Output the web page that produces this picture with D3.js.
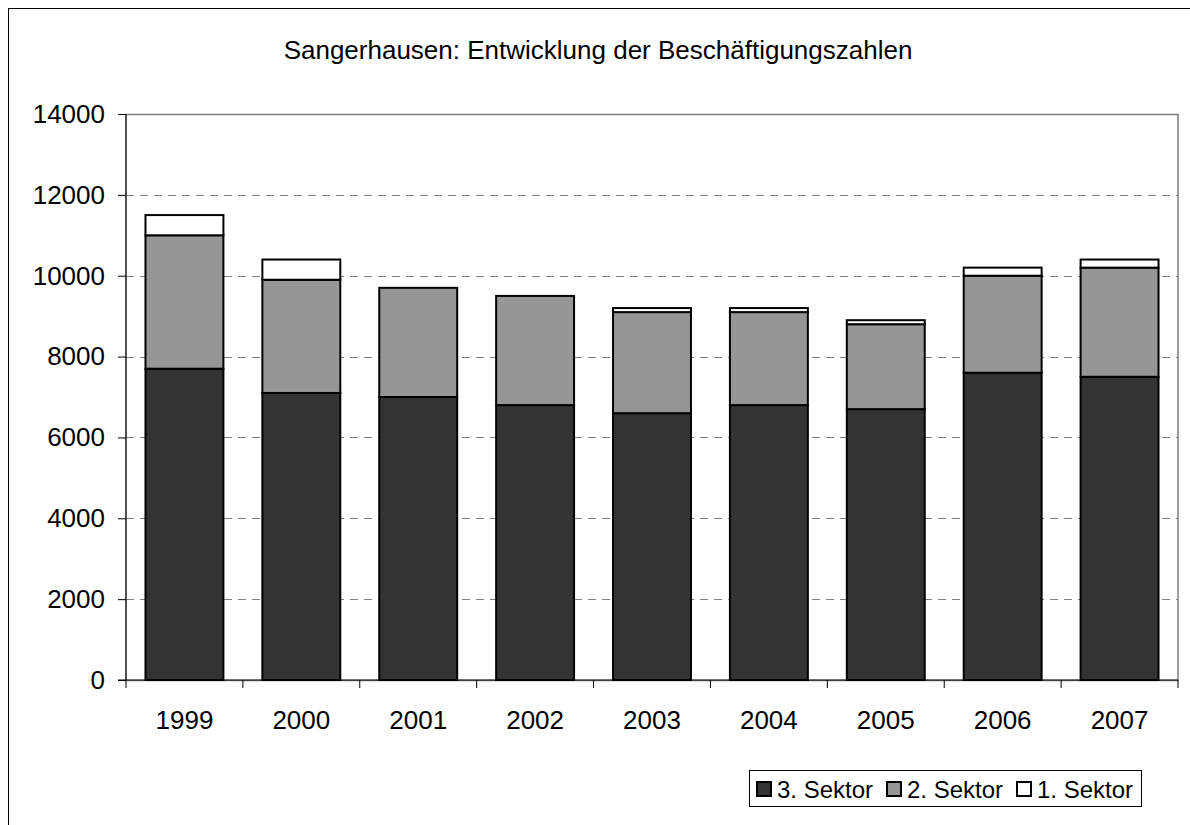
<!DOCTYPE html>
<html>
<head>
<meta charset="utf-8">
<script src="https://cdn.jsdelivr.net/npm/d3@7"></script>
<style>
  body { margin: 0; background: #fff; }
  svg { font-family: "Liberation Sans", Arial, sans-serif; }
</style>
</head>
<body>
<svg id="chart" width="1190" height="825"></svg>
<script>
const years = ['1999', '2000', '2001', '2002', '2003', '2004', '2005', '2006', '2007'];
const sektor3 = [7700, 7100, 7000, 6800, 6600, 6800, 6700, 7600, 7500];
const sektor2 = [3300, 2800, 2700, 2700, 2500, 2300, 2100, 2400, 2700];
const sektor1 = [500, 500, 0, 0, 100, 100, 100, 200, 200];
const yTicks = [0, 2000, 4000, 6000, 8000, 10000, 12000, 14000];
const seriesNames = ['3. Sektor', '2. Sektor', '1. Sektor'];
const seriesColors = ['#333333', '#969696', '#ffffff'];

const FONT = 26;
const svg = d3.select('#chart');
const plot = { left: 126, right: 1178, top: 114, bottom: 680 };

// chart frame
svg.append('rect')
    .attr('x', 8.5).attr('y', 8.5)
    .attr('width', 1200).attr('height', 900)
    .attr('fill', 'none').attr('stroke', '#000').attr('stroke-width', 1);

svg.append('text')
    .attr('x', 598).attr('y', 59)
    .attr('text-anchor', 'middle')
    .attr('font-size', FONT)
    .text('Sangerhausen: Entwicklung der Beschäftigungszahlen');

const x = d3.scaleBand().domain(years).range([plot.left, plot.right]).paddingInner(1 / 3).paddingOuter(1 / 6);
const y = d3.scaleLinear().domain([0, 14000]).range([plot.bottom, plot.top]);

// plot area border
svg.append('rect')
    .attr('x', plot.left).attr('y', plot.top + 0.5)
    .attr('width', plot.right - plot.left).attr('height', plot.bottom - plot.top)
    .attr('fill', 'none').attr('stroke', '#808080').attr('stroke-width', 1.5);

// gridlines
svg.append('g').selectAll('line')
    .data(yTicks.filter(d => d > 0 && d < 14000))
    .join('line')
    .attr('x1', plot.left).attr('x2', plot.right)
    .attr('y1', d => Math.round(y(d)) + 0.5).attr('y2', d => Math.round(y(d)) + 0.5)
    .attr('stroke', '#808080').attr('stroke-dasharray', '8,6');

// stacked bars
const rows = years.map((yr, i) => ({ year: yr, s3: sektor3[i], s2: sektor2[i], s1: sektor1[i] }));
const stack = d3.stack().keys(['s3', 's2', 's1'])(rows);

svg.append('g').selectAll('g')
    .data(stack)
    .join('g')
    .attr('fill', (d, i) => seriesColors[i])
    .selectAll('rect')
    .data(d => d.filter(p => p[1] - p[0] > 0))
    .join('rect')
    .attr('x', d => x(d.data.year))
    .attr('y', d => y(d[1]))
    .attr('width', x.bandwidth())
    .attr('height', d => y(d[0]) - y(d[1]))
    .attr('stroke', '#000').attr('stroke-width', 2);

// y axis
const yAxis = svg.append('g')
    .attr('transform', `translate(${plot.left},0)`)
    .call(d3.axisLeft(y).tickValues(yTicks).tickSize(8).tickPadding(13).tickFormat(d3.format('d')));
yAxis.attr('font-size', FONT).attr('font-family', '"Liberation Sans", Arial, sans-serif');
yAxis.selectAll('text').attr('fill', '#000');
yAxis.selectAll('line, path').attr('stroke', '#000');
yAxis.select('.domain').attr('d', `M0,${plot.top}V${plot.bottom}`);

// x axis
const xAxis = svg.append('g')
    .attr('transform', `translate(0,${plot.bottom})`);
xAxis.append('line')
    .attr('x1', plot.left - 8).attr('x2', plot.right)
    .attr('stroke', '#000');
xAxis.selectAll('.tick')
    .data(d3.range(years.length + 1))
    .join('line')
    .attr('x1', i => plot.left + i * x.step()).attr('x2', i => plot.left + i * x.step())
    .attr('y1', 0).attr('y2', 8)
    .attr('stroke', '#000');
xAxis.selectAll('text')
    .data(years)
    .join('text')
    .attr('x', d => x(d) + x.bandwidth() / 2)
    .attr('y', 49)
    .attr('text-anchor', 'middle')
    .attr('font-size', FONT)
    .text(d => d);

// legend
const legend = svg.append('g').attr('transform', 'translate(749,770)');
legend.append('rect')
    .attr('x', 0.5).attr('y', 0.5).attr('width', 392).attr('height', 36)
    .attr('fill', '#fff').attr('stroke', '#000');
const itemX = [8, 138, 268];
seriesNames.forEach((name, i) => {
    legend.append('rect')
        .attr('x', itemX[i]).attr('y', 12).attr('width', 14).attr('height', 14)
        .attr('fill', seriesColors[i]).attr('stroke', '#000').attr('stroke-width', 2);
    legend.append('text')
        .attr('x', itemX[i] + 20).attr('y', 28)
        .attr('font-size', FONT - 2)
        .text(name);
});
</script>
</body>
</html>
